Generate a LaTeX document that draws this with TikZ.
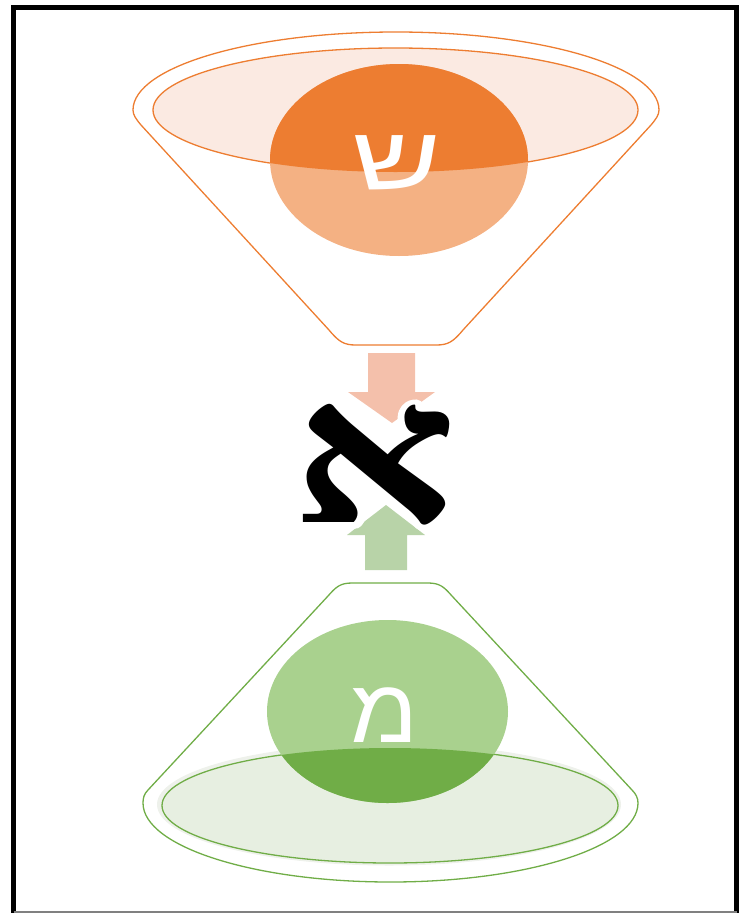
\documentclass[tikz,border=0pt]{standalone}
\usepackage{fontspec}
\setmainfont{Liberation Sans}
\newfontfamily\hebsans[Script=Hebrew]{Liberation Sans}
\newfontfamily\hebserif[Script=Hebrew]{Liberation Serif}
\TeXXeTstate=1
\newcommand\myhaloon{\special{pdf:literal direct 2 Tr 11 w 1 J 1 j 1 1 1 RG}}
\newcommand\myhalooff{\special{pdf:literal direct 0 Tr 1 w}}
\definecolor{orA}{HTML}{ED7D31}
\definecolor{orB}{HTML}{F4B183}
\definecolor{orC}{HTML}{FBEAE2}
\definecolor{orArrow}{HTML}{F4C0AB}
\definecolor{grA}{HTML}{70AD47}
\definecolor{grB}{HTML}{A9D18E}
\definecolor{grC}{HTML}{E7EFE1}
\definecolor{grGlow}{HTML}{E2E8DE}
\definecolor{grArrow}{HTML}{B8D3A8}
\begin{document}
\begin{tikzpicture}[x=1pt,y=-1pt,
  outl/.style={line width=1.3pt},
  letter/.style={text=white,inner sep=0pt,font=\hebsans\fontsize{90}{92}\selectfont},
  alephtxt/.style={inner sep=0pt,xscale=1.4,yscale=1.08,font=\hebserif\bfseries\fontsize{185}{190}\selectfont}]
\useasboundingbox (0,0) rectangle (747,913);
% frame
\draw[line width=5pt] (13.5,913) -- (13.5,7.5) -- (736.5,7.5) -- (736.5,913);
\draw[line width=2pt,gray] (13.5,912) -- (736.5,912);

% ---------- top funnel ----------
\draw[outl,orA] (133,110) arc[start angle=180,end angle=360,x radius=263,y radius=78]
  .. controls (659,115) and (656,119) .. (651,125)
  -- (463,330) .. controls (453,342) and (448,345) .. (436,345)
  -- (356,345) .. controls (344,345) and (339,342) .. (329,330)
  -- (141,125) .. controls (136,119) and (133,115) .. cycle;
\filldraw[outl,draw=orA,fill=orC] (395.5,110) ellipse[x radius=242.5,y radius=62];
\fill[orB] (399,160) ellipse[x radius=129,y radius=96];
\begin{scope}
  \clip (395.5,110) ellipse[x radius=242.5,y radius=62];
  \fill[orA] (399,160) ellipse[x radius=129,y radius=96];
\end{scope}
\node[letter,xscale=1.35] (shin) at (397,163) {\beginR ש\endR};

% ---------- arrows ----------
\fill[orArrow] (368,353) -- (415,353) -- (415,392) -- (435,392) -- (392,423) -- (348,392) -- (368,392) -- cycle;
\fill[grArrow] (365,570) -- (407,570) -- (407,535) -- (425,535) -- (386,505) -- (347,535) -- (365,535) -- cycle;

% ---------- aleph with white halo ----------
\node[alephtxt,text=white] (alephhalo) at (375,465) {\myhaloon\beginR א\endR\myhalooff};
\node[alephtxt,text=black] (aleph) at (375,465) {\beginR א\endR};

% ---------- bottom cone ----------
\draw[outl,grA] (143,803) arc[start angle=180,end angle=0,x radius=247.5,y radius=79]
  .. controls (638,798) and (636,794) .. (632,790)
  -- (452,596) .. controls (444,587) and (440,583) .. (428,583)
  -- (352,583) .. controls (340,583) and (336,587) .. (328,596)
  -- (148,790) .. controls (144,794) and (143,798) .. cycle;
\fill[grGlow,opacity=0.6] (389,804.5) ellipse[x radius=232,y radius=61];
\filldraw[outl,draw=grA,fill=grC] (390,805.5) ellipse[x radius=228,y radius=57.5];
\fill[grB] (387.5,711.5) ellipse[x radius=120.5,y radius=91.5];
\begin{scope}
  \clip (390,805.5) ellipse[x radius=228,y radius=57.5];
  \fill[grA] (387.5,711.5) ellipse[x radius=120.5,y radius=91.5];
\end{scope}
\node[letter,xscale=1.1] (mem) at (385,715) {\beginR מ\endR};
\end{tikzpicture}
\end{document}
